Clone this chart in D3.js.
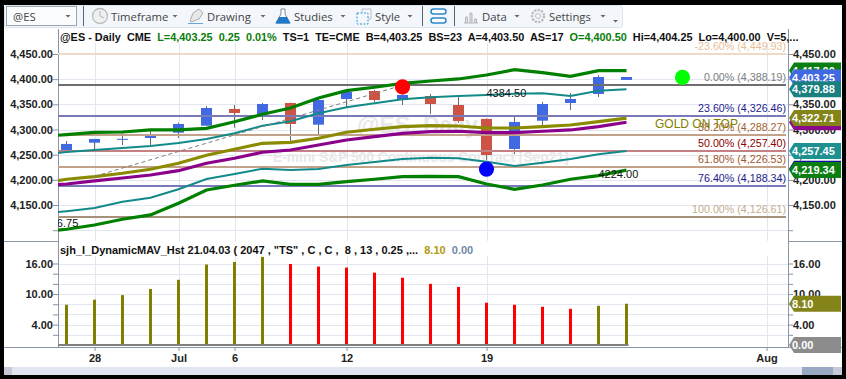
<!DOCTYPE html>
<html>
<head>
<meta charset="utf-8">
<title>@ES Daily</title>
<script src="https://cdn.jsdelivr.net/npm/d3@7"></script>
<style>
    html, body { margin: 0; padding: 0; background: #000; overflow: hidden; }
    svg { display: block; }
    text { font-family: "Liberation Sans", Arial, sans-serif; white-space: pre; }
    .axis text { font-size: 11px; font-weight: bold; fill: #222; }
    .axis line { stroke: #8592a6; }
    .axis path { display: none; }
    .tool { font-family: "Open Sans", sans-serif; font-size: 11.3px; fill: #444; }
</style>
</head>
<body>
<script>
    // candles, index 0 is Jun 25
    var opens  = [4259.3,4273.8,4280.5,4283.2,4293.7,4307.6,4340.8,4329.5,4352.7,4309.6,4360.6,4376.5,4358.6,4366.6,4348.7,4321.0,4261.3,4317.5,4352.7,4370.6,4398.5];
    var closes = [4271.3,4281.2,4281.5,4289.1,4311.0,4342.8,4332.8,4350.7,4311.0,4358.6,4374.5,4358.6,4368.6,4350.7,4317.0,4249.4,4315.0,4350.7,4360.6,4404.3,4404.3];
    var highs  = [4277.0,4281.5,4292.5,4297.0,4313.6,4346.7,4348.7,4352.7,4353.5,4363.0,4378.5,4378.5,4388.0,4370.6,4368.6,4322.0,4328.9,4354.7,4372.5,4408.3,4404.3];
    var lows   = [4255.0,4259.3,4269.3,4269.0,4283.0,4307.0,4303.6,4319.0,4277.2,4291.0,4344.7,4354.7,4348.7,4330.8,4313.6,4239.5,4251.4,4309.0,4338.8,4364.6,4398.5];

    // band lines, first value is the bar before the left edge (index -1)
    var upperGreen = [4286.0,4289.7,4294.5,4295.1,4299.1,4299.1,4302.4,4315.5,4330.2,4342.8,4362.6,4377.1,4383.9,4391.8,4396.4,4400.4,4408.3,4418.8,4412.9,4405.7,4416.8,4417.0];
    var upperTeal  = [4249.4,4255.4,4259.3,4263.3,4267.3,4273.3,4281.2,4292.5,4307.6,4316.3,4332.2,4344.1,4352.1,4360.0,4364.0,4366.6,4368.6,4371.2,4372.0,4366.6,4377.1,4379.88];
    var goldLine   = [4191.8,4201.2,4206.4,4213.1,4221.1,4232.9,4248.8,4260.7,4272.6,4274.6,4282.6,4294.5,4300.5,4305.6,4307.6,4307.0,4303.0,4303.0,4305.6,4309.0,4315.5,4322.71];
    var purpleLine = [4187.8,4191.8,4197.8,4203.7,4209.7,4218.2,4232.9,4242.9,4254.8,4259.3,4269.3,4279.2,4285.8,4292.5,4295.7,4296.5,4293.7,4293.7,4296.5,4299.1,4305.6,4314.4];
    var lowerTeal  = [4132.2,4137.6,4144.2,4156.7,4164.6,4181.3,4201.8,4211.7,4222.2,4219.6,4221.6,4229.6,4235.5,4241.5,4244.0,4242.9,4236.1,4227.6,4234.1,4241.5,4250.8,4257.45];
    var lowerGreen = [4095.5,4101.9,4110.4,4121.7,4130.3,4153.5,4179.9,4189.2,4197.8,4191.2,4191.2,4196.4,4201.2,4206.4,4207.1,4206.4,4191.8,4181.3,4189.8,4201.2,4208.3,4219.34];

    var fibLevels = [4449.93,4388.19,4326.46,4288.27,4257.40,4226.53,4188.34,4126.61];
    var fibPcts   = ["-23.60%","0.00%","23.60%","38.20%","50.00%","61.80%","76.40%","100.00%"];
    var fibText   = ["#e8bf96","#7d7d7d","#1c1c8c","#a5622f","#8b0000","#a0562d","#1c1c8c","#c4ad90"];
    var fibStroke = ["#f0d9c6","#6e6e6e","#7a7abb","#c4a28a","#c48083","#c4a28a","#7a7abb","#a59079"];

    // histogram
    var histValues = [7.9,8.9,9.8,11.0,12.8,15.8,16.3,17.3,15.9,15.4,15.2,14.2,13.2,12.0,11.4,8.3,7.9,7.5,7.1,7.7,8.1];
    var histColors = ["o","o","o","o","o","o","o","o","r","r","r","r","r","r","r","r","r","r","r","o","o"];

    var priceTicks = [4450,4400,4350,4300,4250,4200,4150,4100];
    var histTicks = [2,4,6,8,10,12,14,16];
    var histLabeled = [4,10,16];
    var dayTicks = [1,4,6,10,15,25];
    var dayLabels = ["28","Jul","6","12","19","Aug"];

    var tagValues = [4417.00,4403.25,4379.88,4314.4,4322.71,4257.45,4222,4219.34];
    var tagColors = ["#0c7f12","#4169e1","#1a7f7f","#8b0a8b","#84841a","#1e9090","#10109c","#0c7f12"];
    var tagShown  = [true,true,true,false,true,true,false,true];

    var headerParts = [
        ["@ES - Daily  CME  ","#111"],["L=4,403.25  0.25  0.01%  ","#0a7d0a"],
        ["TS=1  TE=CME  B=4,403.25  BS=23  A=4,403.50  AS=17  ","#111"],
        ["O=4,400.50  ","#0a7d0a"],["Hi=4,404.25  Lo=4,400.00  V=5,...","#111"]
    ];
    var histHeader = [
        ["sjh_I_DynamicMAV_Hst 21.04.03 ( 2047 , \"TS\" , C , C ,  8 , 13 , 0.25 ,...  ","#111"],
        ["8.10  ","#b09a10"],["0.00","#7088a8"]
    ];

    var toolLabels = ["Timeframe","Drawing","Studies","Style","Data","Settings"];

    var width = 846, height = 379;
    var left = 58, right = 788;
    var priceTop = 29, priceBottom = 241, histTop = 243, histBottom = 347;

    var svg = d3.select("body").append("svg")
        .attr("width", width)
        .attr("height", height);

    var x = d3.scaleLinear().domain([-1, 25]).range([38.5, 766.5]);
    var y = d3.scaleLinear().domain([4450, 4100]).range([54, 230.2]);
    var yHist = d3.scaleLinear().domain([0, 16]).range([345, 263.5]);

    svg.append("rect").attr("width", width).attr("height", height).attr("fill", "#000");
    svg.append("rect").attr("x", 4).attr("y", 5).attr("width", 838).attr("height", 370).attr("fill", "#fff");

    var defs = svg.append("defs");
    defs.append("clipPath").attr("id", "priceClip").append("rect")
        .attr("x", left).attr("y", priceTop).attr("width", right - left).attr("height", priceBottom - priceTop);

    function renderToolbar() {
        var bar = svg.append("g");
        bar.append("rect").attr("x", 4.5).attr("y", 5.5).attr("width", 618).attr("height", 22)
            .attr("rx", 2).attr("fill", "#f3f6fa").attr("stroke", "#dde6f0");
        bar.append("rect").attr("x", 6.5).attr("y", 6.5).attr("width", 70).attr("height", 19)
            .attr("fill", "#fbfcfd").attr("stroke", "#9aa6b2");
        bar.append("text").attr("class", "tool").attr("x", 13).attr("y", 21).text("@ES");

        [83, 422, 454].forEach(function (d) {
            bar.append("line").attr("x1", d + 0.5).attr("x2", d + 0.5).attr("y1", 6).attr("y2", 26)
                .attr("stroke", "#5a6672");
        });

        var labelX = [111, 207, 294, 375, 482, 549];
        bar.selectAll("text.lbl").data(toolLabels).join("text")
            .attr("class", "tool lbl")
            .attr("x", function (d, i) { return labelX[i]; })
            .attr("y", 21)
            .text(function (d) { return d; });

        var carets = [68, 175, 263, 343, 410, 517, 603];
        bar.selectAll("path.caret").data(carets).join("path")
            .attr("class", "caret")
            .attr("d", function (d) { return "M" + (d - 2.5) + ",15h5l-2.5,2.5z"; })
            .attr("fill", "#666");
        bar.append("path").attr("d", "M613,20h5l-2.5,2.5z").attr("fill", "#666");

        // clock
        bar.append("circle").attr("cx", 100).attr("cy", 16).attr("r", 7.5)
            .attr("fill", "#f0f0f0").attr("stroke", "#b8bcc0").attr("stroke-width", 1.3);
        bar.append("path").attr("d", "M100,11v5l4,2").attr("fill", "none").attr("stroke", "#b0b4b8");
        // pencil
        bar.append("path").attr("d", "M190,21l3,-8l6,-4l4,4l-4,6l-8,3z").attr("fill", "#e6e8ea").attr("stroke", "#a8acb0");
        bar.append("line").attr("x1", 188).attr("x2", 203).attr("y1", 23.5).attr("y2", 23.5).attr("stroke", "#6aa5d8");
        // flask
        bar.append("path").attr("d", "M281,9h4v5l5,9h-14l5,-9z").attr("fill", "#fff").attr("stroke", "#7a8a9a");
        bar.append("path").attr("d", "M279,17h8l3.5,6.5h-15z").attr("fill", "#1f78c8");
        // style
        bar.append("rect").attr("x", 357).attr("y", 13).attr("width", 11).attr("height", 11)
            .attr("fill", "none").attr("stroke", "#2a9ae0").attr("stroke-dasharray", "2,1.5");
        bar.append("path").attr("d", "M362,13v-4h9v10h-3").attr("fill", "none").attr("stroke", "#b8c0c8");
        // stacked panes
        bar.append("rect").attr("x", 431).attr("y", 9).attr("width", 15).attr("height", 5).attr("rx", 2.5)
            .attr("fill", "#fff").attr("stroke", "#2a86c8").attr("stroke-width", 1.5);
        bar.append("rect").attr("x", 431).attr("y", 18).attr("width", 15).attr("height", 5).attr("rx", 2.5)
            .attr("fill", "#fff").attr("stroke", "#2a86c8").attr("stroke-width", 1.5);
        // bars
        bar.append("path").attr("d", "M464,23h14M465.5,23v-6h2v6M470,23v-10h2v10M474.5,23v-4h2v4")
            .attr("fill", "#e0e2e4").attr("stroke", "#b4b8bc");
        // gear
        bar.append("circle").attr("cx", 538).attr("cy", 16).attr("r", 6)
            .attr("fill", "none").attr("stroke", "#b8bcc0").attr("stroke-width", 2.4).attr("stroke-dasharray", "2.2,1.2");
        bar.append("circle").attr("cx", 538).attr("cy", 16).attr("r", 2.5)
            .attr("fill", "none").attr("stroke", "#b8bcc0");
    }

    function renderGrid() {
        var grid = svg.append("g").attr("stroke", "#e2e6f1").attr("stroke-width", 1);
        grid.selectAll("line.h").data(priceTicks).join("line")
            .attr("x1", left).attr("x2", right)
            .attr("y1", function (d) { return Math.round(y(d)) + 0.5; })
            .attr("y2", function (d) { return Math.round(y(d)) + 0.5; });
        grid.selectAll("line.k").data(histTicks).join("line")
            .attr("x1", left).attr("x2", right)
            .attr("y1", function (d) { return Math.round(yHist(d)) + 0.5; })
            .attr("y2", function (d) { return Math.round(yHist(d)) + 0.5; });
        grid.selectAll("line.v").data(dayTicks).join("line")
            .attr("x1", function (d) { return Math.round(x(d)) + 0.5; })
            .attr("x2", function (d) { return Math.round(x(d)) + 0.5; })
            .attr("y1", 43).attr("y2", priceBottom);
        grid.selectAll("line.w").data(dayTicks).join("line")
            .attr("x1", function (d) { return Math.round(x(d)) + 0.5; })
            .attr("x2", function (d) { return Math.round(x(d)) + 0.5; })
            .attr("y1", 256).attr("y2", histBottom);
    }

    function renderWatermark() {
        var g = svg.append("g").attr("fill", "#e8e8e8").attr("font-weight", "bold");
        g.append("text").attr("x", 357).attr("y", 133).attr("font-size", 23).text("@ES, Daily");
        g.append("text").attr("x", 273).attr("y", 162).attr("font-size", 13.8).text("E-mini S&P 500 Continuous Contract [Sep21]");
    }

    function renderAxes() {
        var price = d3.format(",.2f");
        var priceFmt = function (d) { return d === 4100 ? "" : price(d); };
        var histFmt = function (d) { return histLabeled.indexOf(d) >= 0 ? price(d) : ""; };

        svg.append("g").attr("class", "axis").attr("transform", "translate(" + left + ",0)")
            .call(d3.axisLeft(y).tickValues(priceTicks).tickSize(5).tickPadding(0).tickFormat(priceFmt));
        svg.append("g").attr("class", "axis").attr("transform", "translate(" + right + ",0)")
            .call(d3.axisRight(y).tickValues(priceTicks).tickSize(5).tickPadding(0).tickFormat(priceFmt));
        svg.append("g").attr("class", "axis").attr("transform", "translate(" + left + ",0)")
            .call(d3.axisLeft(yHist).tickValues(histTicks).tickSize(5).tickPadding(0).tickFormat(histFmt));
        svg.append("g").attr("class", "axis").attr("transform", "translate(" + right + ",0)")
            .call(d3.axisRight(yHist).tickValues(histTicks).tickSize(5).tickPadding(0).tickFormat(histFmt));
        svg.append("g").attr("class", "axis").attr("transform", "translate(0," + histBottom + ")")
            .call(d3.axisBottom(x).tickValues(dayTicks).tickSize(4).tickPadding(3)
                .tickFormat(function (d, i) { return dayLabels[i]; }));

        var frame = svg.append("g").attr("stroke", "#8a96a8").attr("stroke-width", 1).attr("fill", "none");
        frame.append("path").attr("d", "M" + (left + 0.5) + "," + priceTop + "V" + histBottom);
        frame.append("path").attr("d", "M" + (right + 0.5) + "," + priceTop + "V" + histBottom);
        frame.append("path").attr("d", "M4," + (priceBottom + 0.5) + "H" + left);
        frame.append("path").attr("d", "M" + right + "," + (priceBottom + 0.5) + "H842");
        frame.append("path").attr("d", "M4," + (histBottom + 0.5) + "H842");
    }

    function renderCandles(plot) {
        var idx = d3.range(opens.length);
        plot.selectAll("line.wick").data(idx).join("line")
            .attr("x1", function (i) { return x(i); })
            .attr("x2", function (i) { return x(i); })
            .attr("y1", function (i) { return y(highs[i]); })
            .attr("y2", function (i) { return y(lows[i]); })
            .attr("stroke", "#6b6b6b");
        plot.selectAll("rect.body").data(idx).join("rect")
            .attr("x", function (i) { return x(i) - 5.5; })
            .attr("width", 11)
            .attr("y", function (i) { return y(Math.max(opens[i], closes[i])); })
            .attr("height", function (i) { return Math.max(1, Math.abs(y(opens[i]) - y(closes[i]))); })
            .attr("fill", function (i) { return closes[i] >= opens[i] ? "#4169e1" : "#cd5444"; });
    }

    function renderFib(plot) {
        plot.selectAll("line.fib").data(fibLevels).join("line")
            .attr("x1", left).attr("x2", 786)
            .attr("y1", function (d) { return Math.round(y(d)); })
            .attr("y2", function (d) { return Math.round(y(d)); })
            .attr("stroke", function (d, i) { return fibStroke[i]; })
            .attr("stroke-width", 2);
    }

    function renderFibLabels(plot) {
        var comma = d3.format(",.2f");
        plot.selectAll("text.fib").data(fibLevels).join("text")
            .attr("x", 786)
            .attr("y", function (d) { return y(d) - 4; })
            .attr("text-anchor", "end")
            .attr("font-size", 10.7)
            .attr("fill", function (d, i) { return fibText[i]; })
            .text(function (d, i) { return fibPcts[i] + " (" + comma(d) + ")"; });
    }

    function renderLines(plot) {
        var line = d3.line()
            .x(function (d, i) { return x(i - 1); })
            .y(function (d) { return y(d); });
        var series = [
            [lowerTeal, "#138a8a", 2],
            [upperTeal, "#138a8a", 2],
            [lowerGreen, "#008000", 3.2],
            [upperGreen, "#008000", 3.2],
            [purpleLine, "#8b008b", 3.2],
            [goldLine, "#8b8b00", 3.2]
        ];
        plot.selectAll("path.band").data(series).join("path")
            .attr("fill", "none")
            .attr("d", function (d) { return line(d[0]); })
            .attr("stroke", function (d) { return d[1]; })
            .attr("stroke-width", function (d) { return d[2]; });

        // trend line from the left swing up to the red dot
        plot.append("line")
            .attr("x1", x(1)).attr("y1", y(4207))
            .attr("x2", x(12)).attr("y2", y(4388))
            .attr("stroke", "#808080").attr("stroke-dasharray", "4,3");
    }

    function renderMarkers(plot) {
        plot.append("circle").attr("cx", x(12)).attr("cy", y(4384.5)).attr("r", 7.6).attr("fill", "#f00");
        plot.append("circle").attr("cx", x(15)).attr("cy", y(4221.5)).attr("r", 7.6).attr("fill", "#00f");
        plot.append("circle").attr("cx", x(22)).attr("cy", y(4403.75)).attr("r", 7.6).attr("fill", "#0f0");

        var note = plot.append("g").attr("font-size", 11).attr("fill", "#111");
        note.append("text").attr("x", x(15)).attr("y", y(4384.5) + 10).text("4384.50");
        note.append("text").attr("x", x(19)).attr("y", y(4224) + 10).text("4224.00");
        note.append("text").attr("x", x(-1)).attr("y", y(4126.75) + 10).text("4126.75");

        plot.append("text").attr("x", 655).attr("y", 128).attr("font-size", 12)
            .attr("fill", "#808000").text("GOLD ON TOP");
    }

    function renderHeader(parts, baseline, size) {
        var t = svg.append("text").attr("x", 60).attr("y", baseline)
            .attr("font-size", size).attr("font-weight", "bold");
        t.selectAll("tspan").data(parts).join("tspan")
            .attr("fill", function (d) { return d[1]; })
            .text(function (d) { return d[0]; });
    }

    function renderHist() {
        var idx = d3.range(histValues.length);
        svg.append("g").selectAll("rect").data(idx).join("rect")
            .attr("x", function (i) { return x(i) - 1.5; })
            .attr("width", 3)
            .attr("y", function (i) { return yHist(histValues[i]); })
            .attr("height", function (i) { return yHist(0) - yHist(histValues[i]); })
            .attr("fill", function (i) { return histColors[i] === "o" ? "#808000" : "#f00"; });
        svg.append("line")
            .attr("x1", left).attr("x2", x(20) + 2)
            .attr("y1", yHist(0)).attr("y2", yHist(0))
            .attr("stroke", "#808080").attr("stroke-width", 2);
    }

    function drawTag(cy, color, label) {
        var g = svg.append("g");
        g.append("path")
            .attr("d", "M789," + cy + "L794," + (cy - 8) + "H841V" + (cy + 8) + "H794Z")
            .attr("fill", color);
        if (label) {
            g.append("text").attr("x", 792).attr("y", cy + 4)
                .attr("font-size", 11).attr("font-weight", "bold").attr("fill", "#fff").text(label);
        }
    }

    function renderTags() {
        var price = d3.format(",.2f");
        tagValues.forEach(function (d, i) {
            drawTag(y(d), tagColors[i], tagShown[i] ? price(d) : null);
        });
        drawTag(yHist(histValues[20]), "#84841a", price(histValues[20]));
        drawTag(yHist(0), "#8c8c8c", price(0));
    }

    function renderScrollbar() {
        var g = svg.append("g");
        g.append("rect").attr("x", 4).attr("y", 367).attr("width", 838).attr("height", 8).attr("fill", "#e2e6f2");
        g.append("rect").attr("x", 4).attr("y", 367).attr("width", 8).attr("height", 8).attr("fill", "#c6cad6");
        g.append("rect").attr("x", 802).attr("y", 367).attr("width", 31).attr("height", 8).attr("fill", "#98a8c0");
        g.append("rect").attr("x", 833).attr("y", 367).attr("width", 9).attr("height", 8).attr("fill", "#c6cad6");
    }

    renderToolbar();
    renderGrid();
    renderWatermark();
    renderAxes();

    var plot = svg.append("g").attr("clip-path", "url(#priceClip)");
    renderCandles(plot);
    renderFib(plot);
    renderLines(plot);
    renderFibLabels(plot);
    renderMarkers(plot);

    renderHist();
    renderHeader(headerParts, 41, 10.9);
    renderHeader(histHeader, 254, 11);
    renderTags();
    renderScrollbar();
</script>
</body>
</html>
